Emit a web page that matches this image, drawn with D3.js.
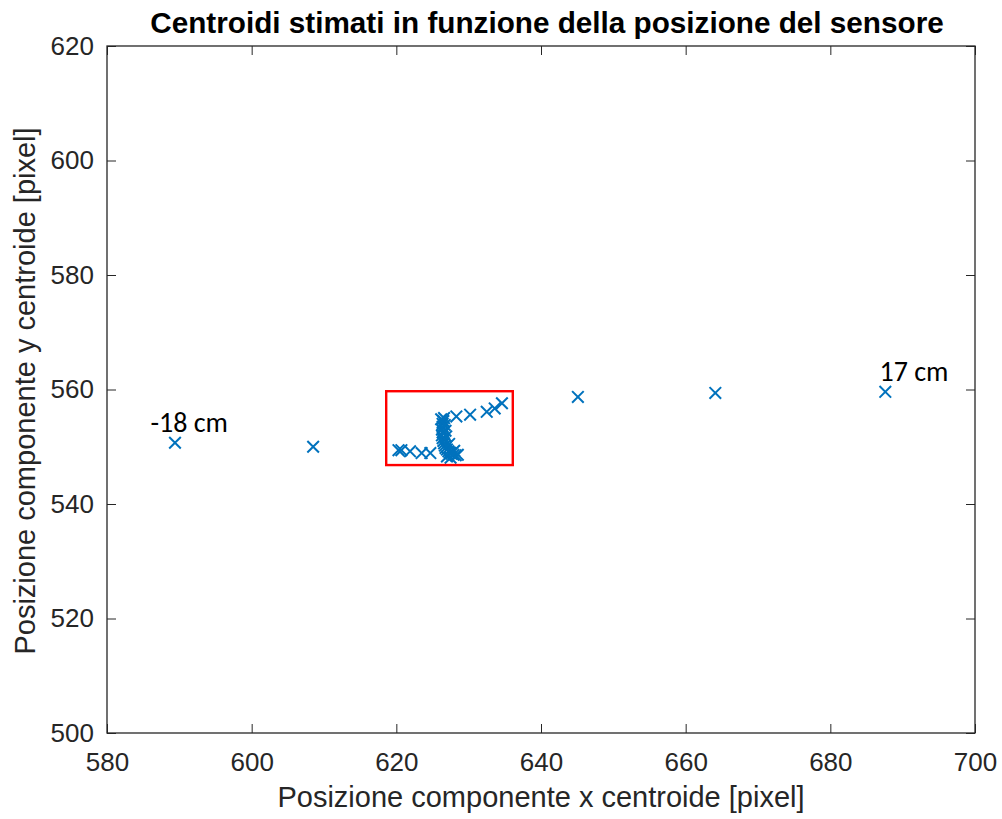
<!DOCTYPE html>
<html>
<head>
<meta charset="utf-8">
<script src="https://cdn.jsdelivr.net/npm/d3@7"></script>
<style>
  html, body { margin: 0; padding: 0; background: #fff; }
  svg { display: block; }
</style>
</head>
<body>
<svg id="chart" width="1002" height="819"></svg>
<script>
// Estimated centroid positions (x, y) in pixels
const centroidX = [
  589.4, 608.5,
  620.3, 620.7, 621.9, 623.5, 624.7,
  626.6, 626.5, 626.4, 626.4, 626.3, 626.4, 626.3, 626.4, 626.5, 626.6,
  626.7, 626.8, 627.0, 627.2, 627.4, 627.6, 627.9, 628.2, 628.5, 627.0,
  627.5, 626.8, 626.9, 626.2, 626.7, 628.0, 627.3,
  628.3, 630.2, 632.5, 633.6, 634.6,
  645.1, 664.1, 687.6
];
const centroidY = [
  550.7, 550.0,
  549.4, 549.4, 549.2, 548.9, 548.9,
  555.0, 554.5, 554.0, 553.5, 553.0, 552.5, 552.0, 551.5, 551.0, 550.6,
  550.2, 549.8, 549.5, 549.2, 549.0, 548.8, 548.6, 548.5, 548.6, 548.3,
  548.1, 552.8, 551.8, 554.8, 553.8, 549.3, 550.5,
  555.3, 555.6, 556.1, 556.7, 557.6,
  558.7, 559.4, 559.6
];

// Text annotations for the two extreme sensor positions (anchored at text start / baseline)
const annotations = [
  { text: "-18 cm", x: 586.0, y: 552.6 },
  { text: "17 cm",  x: 686.8, y: 561.5 }
];

// Highlighted zone around the central cluster: [x0, x1] and [y0, y1]
const zoneX = [618.6, 636.1];
const zoneY = [546.8, 559.7];

const xTicks = [580, 600, 620, 640, 660, 680, 700];
const yTicks = [500, 520, 540, 560, 580, 600, 620];

const svg = d3.select("#chart");
const plotLeft = 107, plotRight = 975, plotTop = 46, plotBottom = 733;
const axisColor = "#262626";
const sansFont = "Arial, 'Liberation Sans', Helvetica, sans-serif";

const x = d3.scaleLinear().domain([580, 700]).range([plotLeft, plotRight]);
const y = d3.scaleLinear().domain([500, 620]).range([plotBottom, plotTop]);

// Axes box with inward ticks on all four sides
const tickLen = 9;
const gAxes = svg.append("g");

gAxes.append("g")
  .attr("transform", `translate(0,${plotBottom})`)
  .call(d3.axisBottom(x).tickValues(xTicks).tickSizeInner(-tickLen).tickSizeOuter(0).tickPadding(20))
  .call(g => g.select(".domain").remove())
  .call(g => g.selectAll("line").attr("stroke", axisColor))
  .call(g => g.selectAll("text").attr("fill", axisColor)
    .attr("font-family", sansFont).attr("font-size", 26));

gAxes.append("g")
  .attr("transform", `translate(0,${plotTop})`)
  .call(d3.axisTop(x).tickValues(xTicks).tickSizeInner(-tickLen).tickSizeOuter(0).tickFormat(""))
  .call(g => g.select(".domain").remove())
  .call(g => g.selectAll("line").attr("stroke", axisColor));

gAxes.append("g")
  .attr("transform", `translate(${plotLeft},0)`)
  .call(d3.axisLeft(y).tickValues(yTicks).tickSizeInner(-tickLen).tickSizeOuter(0).tickPadding(13))
  .call(g => g.select(".domain").remove())
  .call(g => g.selectAll("line").attr("stroke", axisColor))
  .call(g => g.selectAll("text").attr("fill", axisColor)
    .attr("font-family", sansFont).attr("font-size", 26));

gAxes.append("g")
  .attr("transform", `translate(${plotRight},0)`)
  .call(d3.axisRight(y).tickValues(yTicks).tickSizeInner(-tickLen).tickSizeOuter(0).tickFormat(""))
  .call(g => g.select(".domain").remove())
  .call(g => g.selectAll("line").attr("stroke", axisColor));

gAxes.append("rect")
  .attr("x", plotLeft).attr("y", plotTop)
  .attr("width", plotRight - plotLeft).attr("height", plotBottom - plotTop)
  .attr("fill", "none").attr("stroke", axisColor).attr("stroke-width", 1.3);

// Centroid markers (crosses)
const pts = centroidX.map((v, i) => [v, centroidY[i]]);
const r = 5.8;
svg.append("g")
  .selectAll("path")
  .data(pts)
  .join("path")
  .attr("d", d => {
    const cx = x(d[0]), cy = y(d[1]);
    return `M${cx - r},${cy - r}L${cx + r},${cy + r}M${cx - r},${cy + r}L${cx + r},${cy - r}`;
  })
  .attr("stroke", "#0072BD")
  .attr("stroke-width", 2)
  .attr("fill", "none");

// Highlighted zone
svg.append("rect")
  .attr("x", x(zoneX[0])).attr("y", y(zoneY[1]))
  .attr("width", x(zoneX[1]) - x(zoneX[0]))
  .attr("height", y(zoneY[0]) - y(zoneY[1]))
  .attr("fill", "none").attr("stroke", "#ff0000").attr("stroke-width", 2.4);

// Annotations
svg.append("g")
  .selectAll("text")
  .data(annotations)
  .join("text")
  .attr("x", d => x(d.x)).attr("y", d => y(d.y))
  .attr("font-family", "Carlito, Lato, 'Open Sans', sans-serif")
  .attr("font-size", 28)
  .attr("fill", "#000")
  .text(d => d.text);

// Title
svg.append("text")
  .attr("x", 547).attr("y", 33)
  .attr("text-anchor", "middle")
  .attr("font-family", sansFont)
  .attr("font-weight", "bold")
  .attr("font-size", 29.7)
  .attr("fill", "#000")
  .text("Centroidi stimati in funzione della posizione del sensore");

// Axis labels
svg.append("text")
  .attr("x", 541).attr("y", 807)
  .attr("text-anchor", "middle")
  .attr("font-family", sansFont)
  .attr("font-size", 29)
  .attr("fill", axisColor)
  .text("Posizione componente x centroide [pixel]");

svg.append("text")
  .attr("transform", `translate(35,391) rotate(-90)`)
  .attr("text-anchor", "middle")
  .attr("font-family", sansFont)
  .attr("font-size", 29)
  .attr("fill", axisColor)
  .text("Posizione componente y centroide [pixel]");
</script>
</body>
</html>
